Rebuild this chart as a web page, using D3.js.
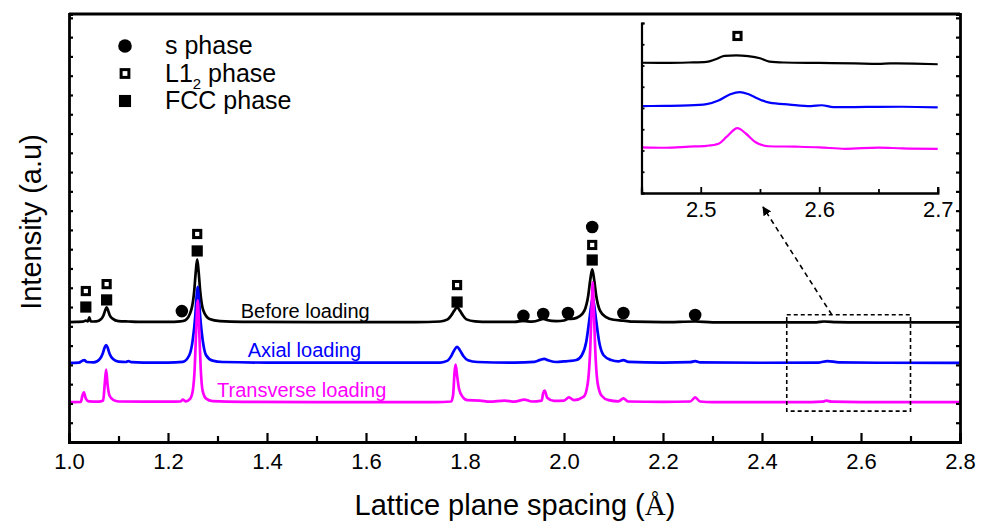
<!DOCTYPE html>
<html>
<head>
<meta charset="utf-8">
<script src="https://cdn.jsdelivr.net/npm/d3@7"></script>
<style>
  body { margin: 0; background: #fff; }
  text { font-family: "Liberation Sans", Arial, sans-serif; fill: #000; }
</style>
</head>
<body>
<div id="chart"></div>
<script>
/* Diffraction profiles: d-spacing vs intensity, three loading states stacked */

// relative intensity above each baseline, [d (A), intensity]
const before = [
  [1.000, 0.02], [1.015, 0.03], [1.028, 0.04], [1.034, 0.10], [1.038, 0.05], [1.041, 0.26], [1.044, 0.05],
  [1.055, 0.06], [1.065, 0.18], [1.070, 0.39], [1.073, 0.62], [1.076, 0.78], [1.079, 0.62], [1.082, 0.39],
  [1.088, 0.20], [1.100, 0.07], [1.120, 0.05], [1.150, 0.03], [1.200, 0.03], [1.225, 0.06], [1.235, 0.12],
  [1.247, 0.65], [1.253, 1.64], [1.256, 2.60], [1.259, 3.27], [1.262, 2.60], [1.265, 1.64], [1.271, 0.65],
  [1.284, 0.18], [1.305, 0.07], [1.350, 0.03], [1.500, 0.02], [1.700, 0.02], [1.750, 0.05], [1.765, 0.16],
  [1.772, 0.36], [1.778, 0.60], [1.784, 0.78], [1.790, 0.60], [1.796, 0.36], [1.803, 0.16], [1.820, 0.06],
  [1.850, 0.03], [1.900, 0.03], [1.918, 0.08], [1.935, 0.04], [1.952, 0.14], [1.958, 0.20], [1.965, 0.13],
  [1.985, 0.07], [2.000, 0.10], [2.008, 0.18], [2.020, 0.20], [2.030, 0.30], [2.041, 0.60], [2.049, 1.40],
  [2.053, 2.20], [2.057, 2.75], [2.061, 2.20], [2.065, 1.40], [2.073, 0.60], [2.085, 0.28], [2.100, 0.14],
  [2.120, 0.10], [2.140, 0.04], [2.200, 0.02], [2.265, 0.05], [2.300, 0.01], [2.400, 0.01], [2.510, 0.01],
  [2.525, 0.05], [2.550, 0.02], [2.600, 0.00], [2.800, 0.00]
];
const axial = [
  [1.000, 0.00], [1.020, 0.02], [1.027, 0.12], [1.031, 0.15], [1.036, 0.05], [1.050, 0.03], [1.062, 0.20],
  [1.068, 0.48], [1.072, 0.80], [1.075, 0.93], [1.078, 0.80], [1.082, 0.48], [1.089, 0.20], [1.100, 0.07],
  [1.115, 0.05], [1.120, 0.10], [1.126, 0.04], [1.150, 0.02], [1.200, 0.02], [1.230, 0.06], [1.243, 0.40],
  [1.250, 1.20], [1.255, 2.40], [1.258, 3.50], [1.260, 3.95], [1.262, 3.50], [1.265, 2.40], [1.270, 1.20],
  [1.277, 0.40], [1.290, 0.12], [1.310, 0.05], [1.400, 0.02], [1.750, 0.02], [1.765, 0.12], [1.772, 0.35],
  [1.778, 0.65], [1.784, 0.83], [1.790, 0.65], [1.797, 0.35], [1.806, 0.14], [1.825, 0.05], [1.900, 0.02],
  [1.940, 0.06], [1.952, 0.16], [1.960, 0.21], [1.968, 0.14], [1.985, 0.05], [2.000, 0.08], [2.010, 0.10],
  [2.025, 0.15], [2.036, 0.40], [2.045, 1.10], [2.051, 2.20], [2.055, 3.00], [2.058, 3.37], [2.061, 3.00],
  [2.065, 2.20], [2.071, 1.10], [2.080, 0.40], [2.095, 0.15], [2.110, 0.08], [2.120, 0.15], [2.130, 0.06],
  [2.200, 0.02], [2.255, 0.04], [2.265, 0.10], [2.275, 0.03], [2.400, 0.01], [2.515, 0.02], [2.532, 0.10],
  [2.555, 0.03], [2.650, 0.01], [2.800, 0.00]
];
const transverse = [
  [1.000, 0.02], [1.024, 0.03], [1.027, 0.35], [1.030, 0.52], [1.034, 0.20], [1.040, 0.06], [1.060, 0.04],
  [1.069, 0.10], [1.072, 0.90], [1.075, 1.71], [1.078, 0.90], [1.082, 0.35], [1.090, 0.12], [1.100, 0.05],
  [1.150, 0.04], [1.200, 0.04], [1.225, 0.05], [1.230, 0.15], [1.236, 0.06], [1.245, 0.20], [1.250, 0.60],
  [1.254, 1.80], [1.257, 3.80], [1.260, 5.30], [1.263, 3.80], [1.266, 1.80], [1.270, 0.60], [1.277, 0.20],
  [1.290, 0.07], [1.350, 0.03], [1.500, 0.02], [1.740, 0.02], [1.772, 0.05], [1.776, 0.40], [1.779, 1.60],
  [1.781, 1.97], [1.784, 1.40], [1.788, 0.70], [1.795, 0.30], [1.805, 0.12], [1.830, 0.10], [1.850, 0.04],
  [1.880, 0.10], [1.900, 0.04], [1.920, 0.15], [1.935, 0.05], [1.955, 0.10], [1.958, 0.50], [1.961, 0.62],
  [1.966, 0.25], [1.980, 0.08], [2.000, 0.10], [2.010, 0.26], [2.020, 0.12], [2.040, 0.30], [2.048, 1.00],
  [2.053, 2.80], [2.056, 5.00], [2.058, 6.23], [2.060, 5.00], [2.063, 2.80], [2.068, 1.00], [2.076, 0.35],
  [2.090, 0.12], [2.110, 0.06], [2.120, 0.21], [2.130, 0.05], [2.200, 0.03], [2.255, 0.05], [2.265, 0.26],
  [2.275, 0.05], [2.300, 0.02], [2.500, 0.02], [2.522, 0.04], [2.530, 0.10], [2.540, 0.04], [2.600, 0.02],
  [2.800, 0.02]
];

const seriesNames = ["Before loading", "Axial loading", "Transverse loading"];
const seriesColors = ["#000000", "#0000ff", "#ff00ff"];
const offsets = [6.2, 4.1, 2.05];

// phase markers above the peaks: d, height, phase
const peakMarks = [
  {d: 1.034, y: 7.83, phase: "L12"}, {d: 1.034, y: 7.00, phase: "FCC"},
  {d: 1.076, y: 8.19, phase: "L12"}, {d: 1.076, y: 7.37, phase: "FCC"},
  {d: 1.228, y: 6.79, phase: "s"},
  {d: 1.259, y: 10.79, phase: "L12"}, {d: 1.259, y: 9.91, phase: "FCC"},
  {d: 1.784, y: 8.14, phase: "L12"}, {d: 1.784, y: 7.26, phase: "FCC"},
  {d: 1.918, y: 6.54, phase: "s"}, {d: 1.958, y: 6.64, phase: "s"}, {d: 2.008, y: 6.69, phase: "s"},
  {d: 2.057, y: 11.15, phase: "s"}, {d: 2.057, y: 10.22, phase: "L12"}, {d: 2.057, y: 9.44, phase: "FCC"},
  {d: 2.120, y: 6.69, phase: "s"}, {d: 2.265, y: 6.59, phase: "s"}
];

// inset (zoom of 2.45 - 2.7 A), absolute inset units
const insetBefore = [
  [2.450, 6.13], [2.470, 6.12], [2.490, 6.14], [2.505, 6.17], [2.512, 6.28], [2.520, 6.45], [2.530, 6.48],
  [2.540, 6.44], [2.550, 6.34], [2.558, 6.18], [2.570, 6.14], [2.600, 6.12], [2.630, 6.10], [2.650, 6.08],
  [2.660, 6.10], [2.680, 6.09], [2.700, 6.06]
];
const insetAxial = [
  [2.450, 4.09], [2.470, 4.10], [2.490, 4.12], [2.505, 4.18], [2.515, 4.35], [2.525, 4.65], [2.533, 4.75],
  [2.540, 4.66], [2.548, 4.45], [2.558, 4.25], [2.575, 4.16], [2.593, 4.09], [2.602, 4.13], [2.612, 4.04],
  [2.640, 4.05], [2.670, 4.06], [2.700, 4.03]
];
const insetTransverse = [
  [2.450, 2.15], [2.470, 2.13], [2.490, 2.18], [2.505, 2.22], [2.515, 2.32], [2.522, 2.65], [2.531, 3.05],
  [2.538, 2.80], [2.546, 2.40], [2.557, 2.20], [2.580, 2.18], [2.600, 2.15], [2.622, 2.08], [2.650, 2.14],
  [2.670, 2.10], [2.700, 2.08]
];
const insetMarks = [{d: 2.531, y: 7.39, phase: "L12"}];

const xMajorTicks = [1.0, 1.2, 1.4, 1.6, 1.8, 2.0, 2.2, 2.4, 2.6, 2.8];
const xMinorTicks = [1.1, 1.3, 1.5, 1.7, 1.9, 2.1, 2.3, 2.5, 2.7];
const insetMajorTicks = [2.5, 2.6, 2.7];
const insetMinorTicks = [2.55, 2.65];

const width = 981, height = 525;
const margin = {top: 14, right: 21, bottom: 83, left: 69};

const svg = d3.select("#chart")
  .append("svg")
  .attr("width", width)
  .attr("height", height)
  .attr("viewBox", [0, 0, width, height]);

const x = d3.scaleLinear()
  .domain([1.0, 2.8])
  .range([margin.left, width - margin.right]);

const y = d3.scaleLinear()
  .domain([0, 22.2])
  .range([height - margin.bottom, margin.top]);

const line = d3.line()
  .x(d => x(d[0]))
  .y(d => y(d[1]))
  .curve(d3.curveMonotoneX);

// curves, black first so colour lines sit on top
[before, axial, transverse].forEach((s, i) => {
  svg.append("path")
    .datum(s.map(p => [p[0], p[1] + offsets[i]]))
    .attr("fill", "none")
    .attr("stroke", seriesColors[i])
    .attr("stroke-width", 2.7)
    .attr("stroke-linejoin", "round")
    .attr("d", line);
});

// curve names
const labelPos = [[1.347, 6.45], [1.361, 4.4], [1.299, 2.35]];
seriesNames.forEach((n, i) => {
  svg.append("text")
    .attr("x", x(labelPos[i][0]))
    .attr("y", y(labelPos[i][1]))
    .attr("font-size", 20)
    .style("fill", seriesColors[i])
    .text(n);
});

// phase symbols
function drawMark(g, cx, cy, phase, big) {
  const s = big ? 1.08 : 1;
  if (phase === "s") {
    g.append("circle").attr("cx", cx).attr("cy", cy).attr("r", 6.3 * s).attr("fill", "#000");
  } else if (phase === "FCC") {
    g.append("rect").attr("x", cx - 5.6 * s).attr("y", cy - 5.6 * s)
      .attr("width", 11.2 * s).attr("height", 11.2 * s).attr("fill", "#000");
  } else {
    g.append("rect").attr("x", cx - 3.6 * s).attr("y", cy - 3.6 * s)
      .attr("width", 7.2 * s).attr("height", 7.2 * s)
      .attr("fill", "#fff").attr("stroke", "#000").attr("stroke-width", 3);
  }
}

const marks = svg.append("g");
peakMarks.forEach(m => drawMark(marks, x(m.d), y(m.y), m.phase, false));

// axes
const xAxisMinor = g => g
  .attr("transform", `translate(0,${height - margin.bottom})`)
  .call(d3.axisBottom(x).tickValues(xMinorTicks).tickSize(-6).tickFormat(""));

const xAxis = g => g
  .attr("transform", `translate(0,${height - margin.bottom})`)
  .call(d3.axisBottom(x).tickValues(xMajorTicks).tickSize(-9).tickPadding(11).tickFormat(d3.format(".1f")));

const yAxis = g => g
  .attr("transform", `translate(${margin.left},0)`)
  .call(d3.axisLeft(y).ticks(22).tickSize(-4).tickFormat(""));

const yAxisRight = g => g
  .attr("transform", `translate(${width - margin.right},0)`)
  .call(d3.axisRight(y).ticks(22).tickSize(-4).tickFormat(""));

[xAxisMinor, xAxis, yAxis, yAxisRight].forEach(a => {
  svg.append("g").call(a)
    .call(g => g.selectAll("path.domain").attr("stroke-width", 2.8).attr("stroke", "#000"))
    .call(g => g.selectAll(".tick line").attr("stroke-width", 2.2).attr("stroke", "#000"))
    .call(g => g.selectAll("text").attr("font-size", 22).attr("font-family", "Liberation Sans, Arial, sans-serif").style("fill", "#000"));
});

svg.append("line")
  .attr("x1", margin.left).attr("x2", width - margin.right)
  .attr("y1", margin.top).attr("y2", margin.top)
  .attr("stroke", "#000").attr("stroke-width", 2.8);

// axis titles
svg.append("text")
  .attr("x", 515)
  .attr("y", 515)
  .attr("text-anchor", "middle")
  .attr("font-size", 29)
  .text("Lattice plane spacing (")
  .append("tspan").style("font-family", "Liberation Serif, serif").text("Å")
  .append("tspan").style("font-family", "Liberation Sans, Arial, sans-serif").text(")");

svg.append("text")
  .attr("transform", "translate(41,222) rotate(-90)")
  .attr("text-anchor", "middle")
  .attr("font-size", 29)
  .text("Intensity (a.u)");

// legend
const legend = svg.append("g");
const legendRows = [["s", "s phase"], ["L12", "L1"], ["FCC", "FCC phase"]];
legendRows.forEach((r, i) => {
  const ly = 46 + i * 27.5;
  drawMark(legend, 125, ly, r[0], true);
  const t = legend.append("text")
    .attr("x", 165)
    .attr("y", ly + 8)
    .attr("font-size", 25)
    .text(r[1]);
  if (r[0] === "L12") {
    t.append("tspan").attr("font-size", 15).attr("dy", 7).text("2");
    t.append("tspan").attr("dy", -7).text(" phase");
  }
});

// dashed box around 2.45-2.7 and arrow to inset
const zoomBox = {d0: 2.45, d1: 2.7, y0: 1.6, y1: 6.6};
svg.append("rect")
  .attr("x", x(zoomBox.d0))
  .attr("y", y(zoomBox.y1))
  .attr("width", x(zoomBox.d1) - x(zoomBox.d0))
  .attr("height", y(zoomBox.y0) - y(zoomBox.y1))
  .attr("fill", "none")
  .attr("stroke", "#000")
  .attr("stroke-width", 1.6)
  .attr("stroke-dasharray", "4,3");

svg.append("defs").append("marker")
  .attr("id", "head")
  .attr("viewBox", "0 0 10 10")
  .attr("refX", 9).attr("refY", 5)
  .attr("markerWidth", 9).attr("markerHeight", 9)
  .attr("markerUnits", "userSpaceOnUse")
  .attr("orient", "auto")
  .append("path")
  .attr("d", "M0,0 L10,5 L0,10 Z")
  .attr("fill", "#000");

svg.append("line")
  .attr("x1", x(2.541)).attr("y1", y(zoomBox.y1))
  .attr("x2", 763).attr("y2", 207)
  .attr("stroke", "#000")
  .attr("stroke-width", 1.6)
  .attr("stroke-dasharray", "5,4")
  .attr("marker-end", "url(#head)");

// inset
const ix = d3.scaleLinear().domain([2.45, 2.7]).range([641.5, 937.7]);
const iy = d3.scaleLinear().domain([0, 8]).range([193, 23]);

const inset = svg.append("g");
const iline = d3.line()
  .x(d => ix(d[0]))
  .y(d => iy(d[1]))
  .curve(d3.curveMonotoneX);

[insetBefore, insetAxial, insetTransverse].forEach((s, i) => {
  inset.append("path")
    .datum(s)
    .attr("fill", "none")
    .attr("stroke", seriesColors[i])
    .attr("stroke-width", 2.2)
    .attr("d", iline);
});

insetMarks.forEach(m => drawMark(inset, ix(m.d), iy(m.y), m.phase, false));

const iAxes = [
  g => g.attr("transform", "translate(0,193)")
        .call(d3.axisBottom(ix).tickValues(insetMinorTicks).tickSize(-4).tickFormat("")),
  g => g.attr("transform", "translate(0,193)")
        .call(d3.axisBottom(ix).tickValues(insetMajorTicks).tickSize(-6).tickPadding(8).tickFormat(d3.format(".1f"))),
  g => g.attr("transform", `translate(${ix(2.45)},0)`)
        .call(d3.axisLeft(iy).ticks(8).tickSize(-3).tickFormat(""))
];
iAxes.forEach(a => {
  inset.append("g").call(a)
    .call(g => g.selectAll("path.domain").attr("stroke-width", 2.2).attr("stroke", "#000"))
    .call(g => g.selectAll(".tick line").attr("stroke-width", 1.8).attr("stroke", "#000"))
    .call(g => g.selectAll("text").attr("font-size", 22).attr("font-family", "Liberation Sans, Arial, sans-serif").style("fill", "#000"));
});
</script>
</body>
</html>
